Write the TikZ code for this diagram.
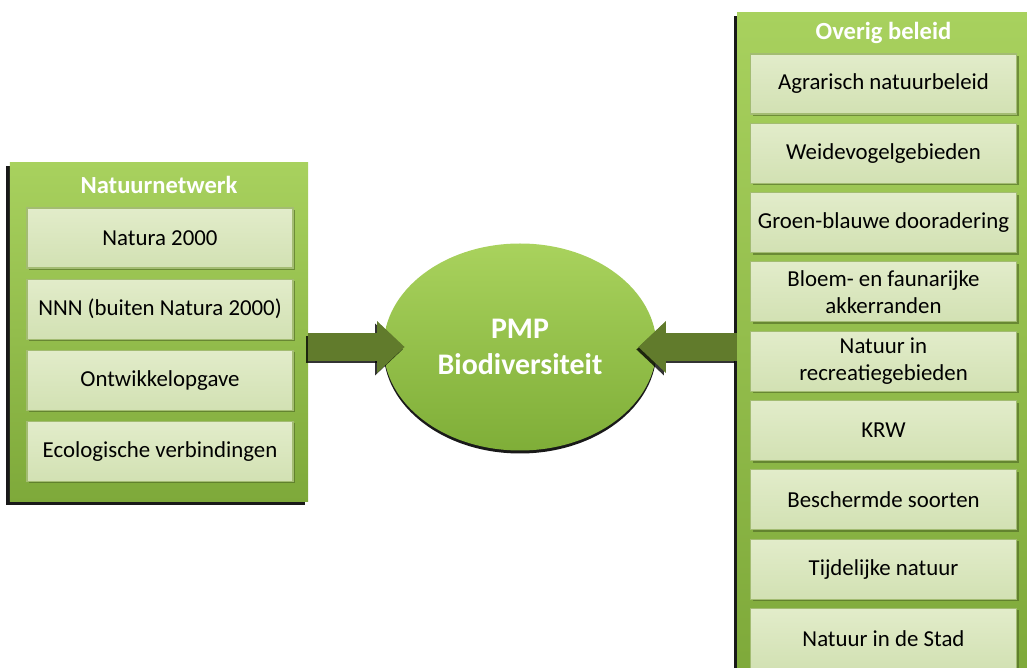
\documentclass[tikz,border=0pt]{standalone}
\usepackage{fontspec}
\setmainfont{Carlito}
\usetikzlibrary{positioning, calc, shadows, arrows.meta, shapes.geometric}

\definecolor{panellight}{HTML}{A8D15E}
\definecolor{paneldark}{HTML}{7EA93A}
\definecolor{itemtop}{HTML}{E2ECCA}
\definecolor{itembottom}{HTML}{D2E1B3}
\definecolor{itemedge}{HTML}{A3BC72}
\definecolor{hubtop}{HTML}{A9D25D}
\definecolor{hubbottom}{HTML}{7FAE38}
\definecolor{arrowgreen}{HTML}{617B2C}

\tikzset{
  panel/.style={rectangle, top color=panellight, bottom color=paneldark,
    drop shadow={shadow xshift=-0.07cm, shadow yshift=-0.07cm, fill=black, opacity=0.9}},
  header/.style={text=white, font=\bfseries\fontsize{14}{16}\selectfont},
  item/.style={rectangle, minimum width=5.32cm, minimum height=1.2cm, inner sep=0.05cm,
    top color=itemtop, bottom color=itembottom, draw=itemedge, line width=0.6pt,
    align=center, font=\fontsize{13}{15.5}\selectfont,
    drop shadow={shadow xshift=0.04cm, shadow yshift=-0.04cm, fill=paneldark!60!black, opacity=0.6}},
  hub/.style={ellipse, minimum width=5.46cm, minimum height=4.14cm, inner sep=0pt,
    top color=hubtop, bottom color=hubbottom, align=center, text=white,
    font=\bfseries\fontsize{17}{20}\selectfont,
    drop shadow={shadow xshift=0cm, shadow yshift=-0.06cm, fill=black, opacity=0.9}},
  bigarrow/.style={draw=arrowgreen, line width=0.55cm,
    -{Triangle[length=0.55cm, width=1.0cm]}},
  arrowshadow/.style={bigarrow, draw=black, opacity=0.8,
    transform canvas={shift={(-0.04cm,-0.05cm)}}}
}

\begin{document}
\begin{tikzpicture}
  \useasboundingbox (0,0) rectangle (20.54,13.36);

  % left block
  \node[panel, minimum width=5.96cm, minimum height=6.78cm] (netwerk) at (3.18, 6.71) {};
  \node[header] (netwerkhead) at (3.18, 9.66) {Natuurnetwerk};
  \node[item] (n2000) at (3.2, 8.6) {Natura 2000};
  \node[item, below=0.2cm of n2000] (nnn) {NNN (buiten Natura 2000)};
  \node[item, below=0.2cm of nnn] (ontw) {Ontwikkelopgave};
  \node[item, below=0.2cm of ontw] (ecol) {Ecologische verbindingen};

  % right block
  \node[panel, minimum width=5.86cm, minimum height=13.24cm] (overig) at (17.67, 6.48) {};
  \node[header] (overighead) at (17.67, 12.7) {Overig beleid};
  \node[item] (agrar) at (17.67, 11.68) {Agrarisch natuurbeleid};
  \node[item, below=0.165cm of agrar] (weide) {Weidevogelgebieden};
  \node[item, below=0.165cm of weide] (groen) {Groen-blauwe dooradering};
  \node[item, below=0.165cm of groen] (bloem) {Bloem- en faunarijke\\akkerranden};
  \node[item, below=0.165cm of bloem] (recr) {Natuur in\\recreatiegebieden};
  \node[item, below=0.165cm of recr] (krw) {KRW};
  \node[item, below=0.165cm of krw] (soort) {Beschermde soorten};
  \node[item, below=0.165cm of soort] (tijd) {Tijdelijke natuur};
  \node[item, below=0.165cm of tijd] (stad) {Natuur in de Stad};

  % centre
  \node[hub] (pmp) at (10.4, 6.42) {PMP\\Biodiversiteit};

  \draw[arrowshadow, shorten >=-0.43cm] (netwerk.east |- pmp.center) -- (pmp.west);
  \draw[bigarrow, shorten >=-0.43cm] (netwerk.east |- pmp.center) -- (pmp.west);
  \draw[arrowshadow, shorten >=-0.37cm] (overig.west |- pmp.center) -- (pmp.east);
  \draw[bigarrow, shorten >=-0.37cm] (overig.west |- pmp.center) -- (pmp.east);
\end{tikzpicture}
\end{document}
